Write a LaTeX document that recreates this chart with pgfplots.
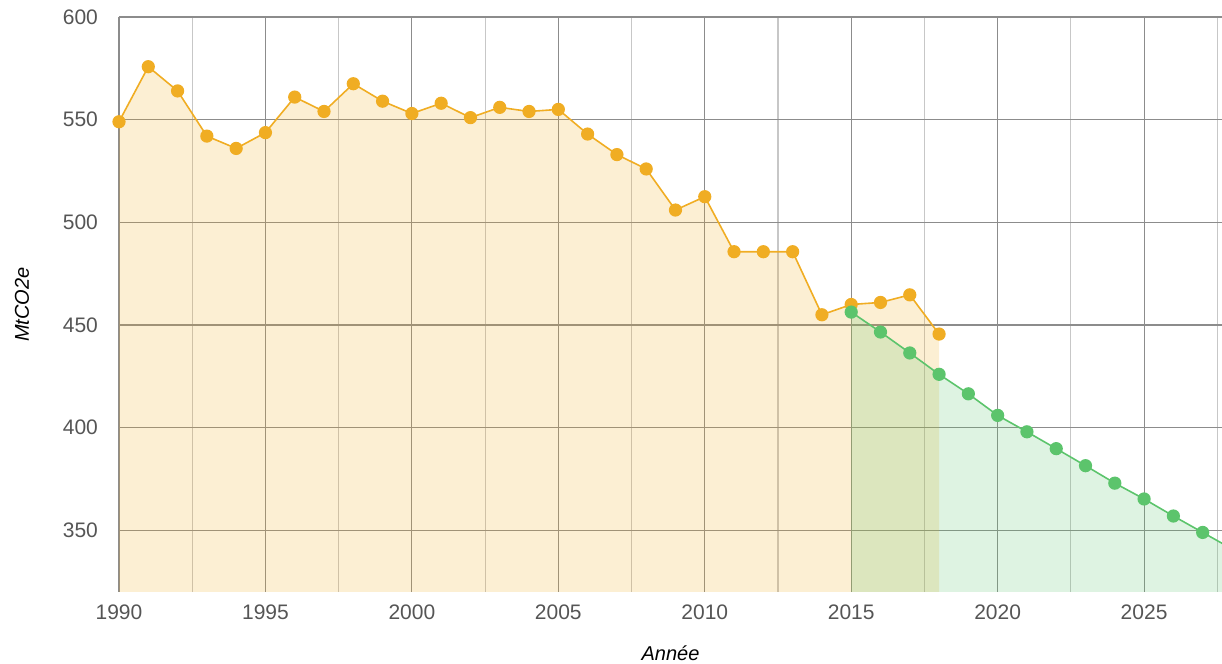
\documentclass[border=0pt]{standalone}
\usepackage{pgfplots}
\pgfplotsset{compat=1.18}
\usepackage{fontspec}
\setmainfont{Liberation Sans}
\definecolor{org}{HTML}{F0AD23}
\definecolor{grn}{HTML}{5CC46C}
\definecolor{tick}{HTML}{555555}
\definecolor{lab}{HTML}{333333}
\pgfplotstableread{
x y
1990 549
1991 575.8
1992 564
1993 542
1994 536
1995 543.7
1996 561
1997 554
1998 567.5
1999 559
2000 553
2001 558
2002 551
2003 556
2004 554
2005 555
2006 543
2007 533
2008 526
2009 506
2010 512.5
2011 485.7
2012 485.7
2013 485.7
2014 455
2015 460
2016 461
2017 464.7
2018 445.6
}\hist
\pgfplotstableread{
x y
2015 456.3
2016 446.6
2017 436.4
2018 426
2019 416.5
2020 406
2021 398
2022 389.8
2023 381.5
2024 373
2025 365.3
2026 357
2027 349
}\proj
\pgfplotstableread{
x y
2027 349
2028 341
}\projend
\begin{document}
\begin{tikzpicture}
\useasboundingbox (-59.5pt,-36pt) rectangle (551.5pt,296pt);
\begin{axis}[
  scale only axis, width=551.5pt, height=287.5pt,
  xmin=1990, xmax=2027.66, ymin=320, ymax=600,
  xtick={1990,1995,...,2025},
  minor xtick={1992.5,1997.5,...,2027.5},
  ytick={350,400,...,600},
  grid=both,
  major grid style={color=black!45, line width=0.6pt},
  minor grid style={color=black!22, line width=0.6pt},
  axis line style={draw=none},
  major tick length=0pt, minor tick length=0pt,
  /pgf/number format/assume math mode=true,
  /pgf/number format/1000 sep={},
  tick label style={font=\fontsize{10.5}{12}\selectfont, text=tick},
  xticklabel style={yshift=-3pt},
  yticklabel style={xshift=-7pt},
  xlabel={\itshape Année},
  ylabel={\itshape MtCO2e},
  label style={font=\fontsize{10}{12}\selectfont, text=lab},
  every axis x label/.style={at={(axis description cs:0.5,0)}, yshift=-30.5pt, anchor=center},
  every axis y label/.style={at={(axis description cs:0,0.5)}, xshift=-48.5pt, rotate=90, anchor=center},
]
\addplot[draw=none, fill=org, fill opacity=0.2] table {\hist} \closedcycle;
\addplot[draw=none, fill=grn, fill opacity=0.2] table {\proj} -- (axis cs:2028,341) \closedcycle;
\addplot[color=org, line width=0.8pt, mark=*, mark size=2.9pt, mark options={fill=org, draw=org}] table {\hist};
\addplot[color=grn, line width=0.8pt, mark=none] table {\projend};
\addplot[color=grn, line width=0.8pt, mark=*, mark size=2.9pt, mark options={fill=grn, draw=grn}] table {\proj};
\end{axis}
\end{tikzpicture}
\end{document}
